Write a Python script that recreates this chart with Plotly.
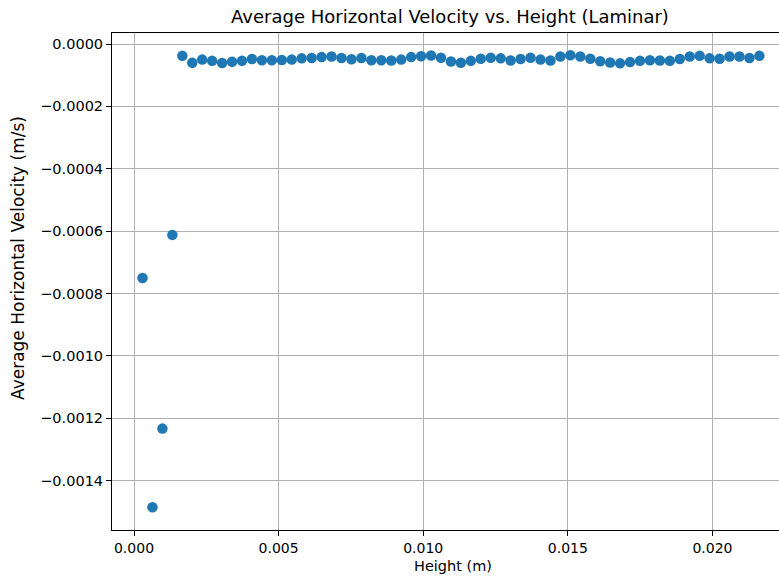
import plotly.graph_objects as go

heights = [
    0.000294, 0.000638, 0.000982, 0.001326, 0.001670, 0.002014, 0.002358, 0.002702,
    0.003046, 0.003390, 0.003734, 0.004078, 0.004422, 0.004766, 0.005110, 0.005454,
    0.005798, 0.006142, 0.006486, 0.006830, 0.007174, 0.007518, 0.007862, 0.008206,
    0.008550, 0.008894, 0.009238, 0.009582, 0.009926, 0.010270, 0.010614, 0.010958,
    0.011302, 0.011646, 0.011990, 0.012334, 0.012678, 0.013022, 0.013366, 0.013710,
    0.014054, 0.014398, 0.014742, 0.015086, 0.015430, 0.015774, 0.016118, 0.016462,
    0.016806, 0.017150, 0.017494, 0.017838, 0.018182, 0.018526, 0.018870, 0.019214,
    0.019558, 0.019902, 0.020246, 0.020590, 0.020934, 0.021278, 0.021622,
]

velocities = [
    -0.000750, -0.001485, -0.001233, -0.000612,
    -0.000038, -0.000060, -0.000050, -0.000054, -0.000061, -0.000057, -0.000054, -0.000048, -0.000052,
    -0.000052, -0.000051, -0.000050, -0.000046, -0.000045, -0.000042, -0.000040, -0.000045, -0.000049,
    -0.000045, -0.000052, -0.000052, -0.000053, -0.000050, -0.000042, -0.000039, -0.000037, -0.000044, -0.000056,
    -0.000060, -0.000054, -0.000047, -0.000044, -0.000046, -0.000053, -0.000048, -0.000044, -0.000050, -0.000053,
    -0.000040, -0.000036, -0.000040, -0.000047, -0.000055, -0.000059, -0.000062, -0.000058, -0.000054, -0.000052,
    -0.000053, -0.000054, -0.000048, -0.000040, -0.000038, -0.000046, -0.000047, -0.000040, -0.000040, -0.000045,
    -0.000038,
]

x_ticks = [0.000, 0.005, 0.010, 0.015, 0.020]
y_ticks = [0.0, -0.0002, -0.0004, -0.0006, -0.0008, -0.0010, -0.0012, -0.0014]

FONT = "DejaVu Sans"
W, H = 779, 580
L, R, T, B = 112, 0, 33, 50

fig = go.Figure(go.Scatter(
    x=heights, y=velocities, mode="markers",
    marker=dict(color="#1f77b4", size=10.5, line=dict(width=0)),
))

axis_common = dict(
    showgrid=True, gridcolor="#b0b0b0", gridwidth=0.8,
    showline=True, linecolor="black", linewidth=1,
    ticks="outside", ticklen=5, tickwidth=1, tickcolor="black",
    zeroline=False,
)

fig.update_layout(
    width=W, height=H,
    margin=dict(l=L, r=R, t=T, b=B),
    paper_bgcolor="white", plot_bgcolor="white",
    showlegend=False,
    font=dict(family=FONT, size=14, color="black"),
    title=dict(
        text="Average Horizontal Velocity vs. Height (Laminar)",
        x=450 / W, xref="container", xanchor="center",
        y=1 - 17 / H, yref="container", yanchor="middle",
        font=dict(family=FONT, size=18, color="black"),
    ),
    xaxis=dict(
        range=[-0.000761, 0.0223], tickvals=x_ticks, tickformat=".3f",
        mirror=True, tickfont=dict(family=FONT, size=14, color="black"),
        **axis_common,
    ),
    yaxis=dict(
        range=[-0.001558, 0.0000353], tickvals=y_ticks, tickformat=".4f",
        mirror=False, tickfont=dict(family=FONT, size=14.5, color="black"),
        **axis_common,
    ),
    annotations=[
        dict(text="Height (m)", xref="paper", yref="paper",
             x=(453 - L) / (W - L - R), y=-(566 - (H - B)) / (H - T - B),
             xanchor="center", yanchor="middle", showarrow=False,
             font=dict(family=FONT, size=14.5, color="black")),
        dict(text="Average Horizontal Velocity (m/s)", xref="paper", yref="paper",
             x=-(L - 18) / (W - L - R), y=(530 - 258) / (H - T - B), textangle=-90,
             xanchor="center", yanchor="middle", showarrow=False,
             font=dict(family=FONT, size=17, color="black")),
    ],
)

fig.write_html(
    "out.html",
    config={"displayModeBar": False},
    post_script="document.body.style.margin='0';document.body.style.padding='0';",
)
